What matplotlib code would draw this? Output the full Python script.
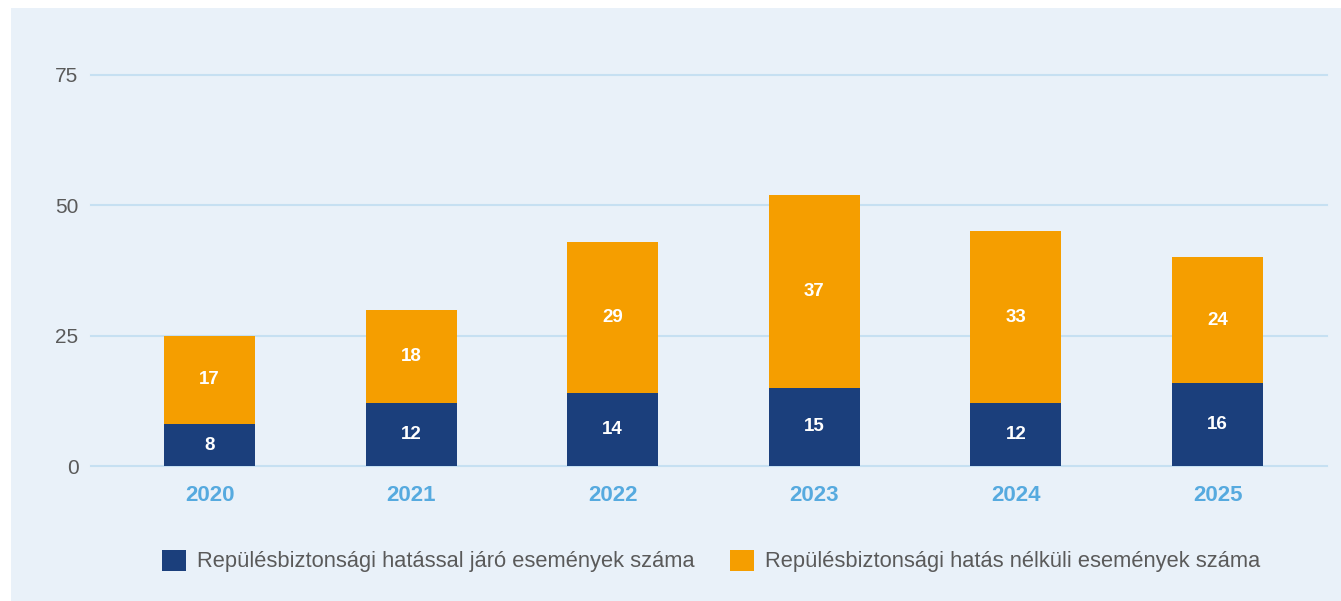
import matplotlib.pyplot as plt
from matplotlib.patches import Rectangle
import numpy as np

years = ["2020", "2021", "2022", "2023", "2024", "2025"]
with_impact = [8, 12, 14, 15, 12, 16]
without_impact = [17, 18, 29, 37, 33, 24]
legend_labels = ["Repülésbiztonsági hatással járó események száma",
                 "Repülésbiztonsági hatás nélküli események száma"]
yticks = [0, 25, 50, 75]

NAVY = "#1B3F7C"
ORANGE = "#F59E00"
BG = "#E9F1F9"
GRID = "#C6E0F2"
YEARC = "#56AADF"
GRAY = "#5A5A5A"

plt.rcParams["font.family"] = ["Liberation Sans", "DejaVu Sans"]

fig = plt.figure(figsize=(13.41, 6.01), dpi=100, facecolor="white")
# light blue panel with a thin white margin on top and left
fig.add_artist(Rectangle((11 / 1341, 0), 1 - 11 / 1341, 593 / 601,
                         transform=fig.transFigure, facecolor=BG,
                         edgecolor="none", zorder=-10))

ax = fig.add_axes([91 / 1341, 135 / 601, (1327 - 91) / 1341, (466 - 75) / 601])
ax.set_facecolor("none")
ax.set_zorder(1)

x = np.arange(len(years))
w = 0.451
b1 = ax.bar(x, with_impact, w, color=NAVY, zorder=3, label=legend_labels[0])
b2 = ax.bar(x, without_impact, w, bottom=with_impact, color=ORANGE, zorder=3,
            label=legend_labels[1])

for i in range(len(years)):
    ax.text(x[i], with_impact[i] / 2, str(with_impact[i]), ha="center", va="center",
            color="white", fontsize=13.5, fontweight="bold", zorder=4)
    ax.text(x[i], with_impact[i] + without_impact[i] / 2, str(without_impact[i]),
            ha="center", va="center", color="white", fontsize=13.5,
            fontweight="bold", zorder=4)

ax.set_xlim(-0.588, 5.543)
ax.set_ylim(0, 75)
ax.set_yticks(yticks)
ax.set_xticks(x, years)
for lab in ax.get_xticklabels():
    lab.set_color(YEARC)
    lab.set_fontweight("bold")
    lab.set_fontsize(16)
for lab in ax.get_yticklabels():
    lab.set_color(GRAY)
    lab.set_fontsize(15)
ax.tick_params(axis="both", length=0)
ax.tick_params(axis="x", pad=14)
ax.tick_params(axis="y", pad=9)
for s in ax.spines.values():
    s.set_visible(False)
ax.grid(axis="y", color=GRID, linewidth=1.5, zorder=1)
ax.set_axisbelow(True)
for gl in ax.get_ygridlines():
    gl.set_clip_on(False)

leg = fig.legend(handles=[b1, b2], loc="center", bbox_to_anchor=(711 / 1341, 1 - 561 / 601),
                 ncol=2, frameon=False, fontsize=15.75, handlelength=1.1, handleheight=1.1,
                 handletextpad=0.5, columnspacing=1.6)
for t in leg.get_texts():
    t.set_color(GRAY)

fig.savefig("out.png", dpi=100, facecolor="white")
